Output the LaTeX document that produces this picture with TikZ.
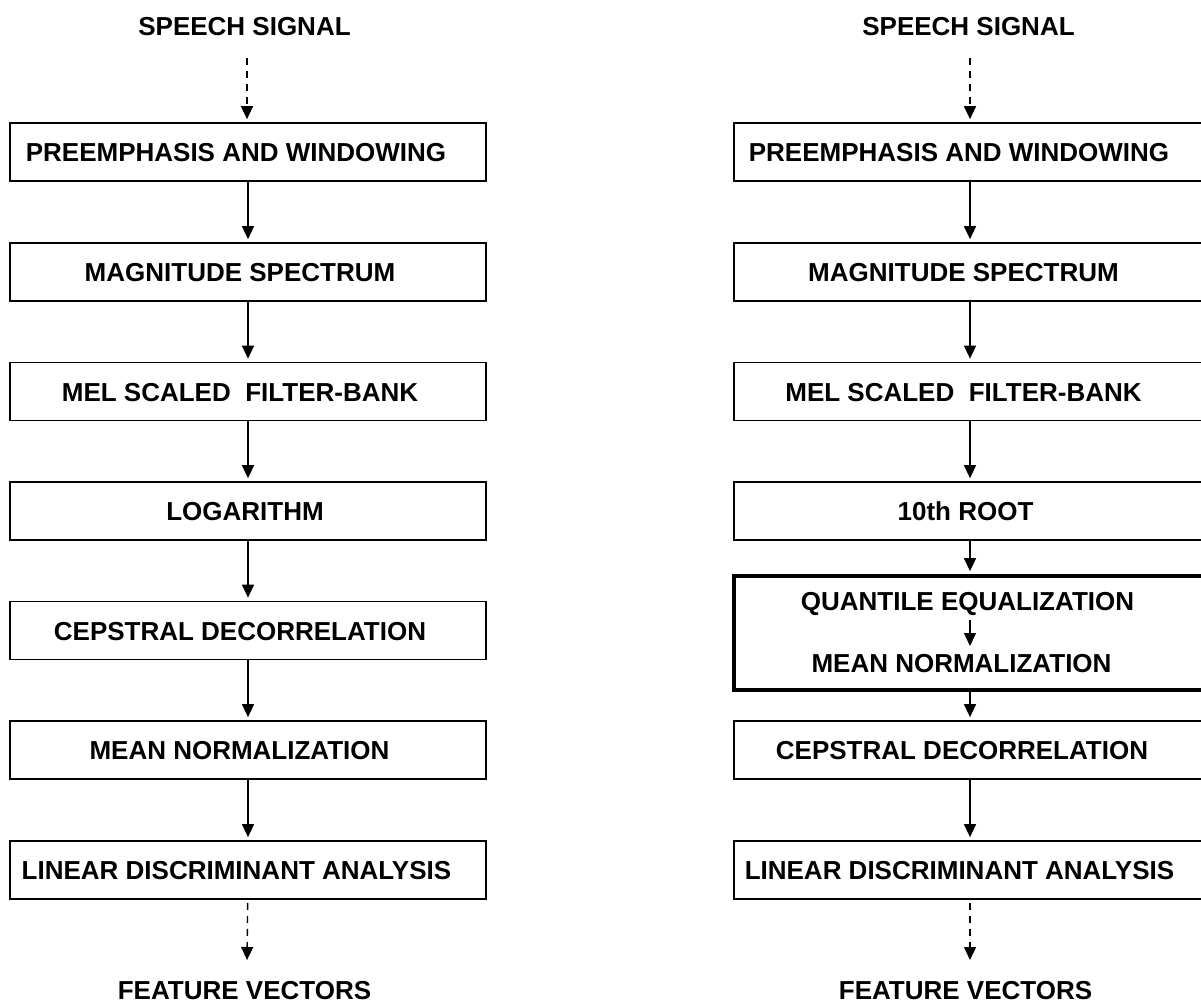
\documentclass[tikz,border=0pt]{standalone}
\usepackage{fontspec}
\setmainfont{Liberation Sans}
\usetikzlibrary{arrows.meta}
\begin{document}
\begin{tikzpicture}[x=1pt,y=-1pt,
  stage/.style={rectangle, draw=black, line width=1.7pt, minimum width=476pt,
    minimum height=58pt, inner sep=0pt},
  widestage/.style={stage, minimum width=472pt},
  caption/.style={font=\fontsize{26}{30}\selectfont\bfseries, anchor=base, inner sep=0pt},
  flow/.style={line width=1.4pt, -{Triangle[length=13pt,width=12pt]}, shorten >=3pt},
  dflow/.style={flow, dash pattern=on 7pt off 6pt}]
\useasboundingbox (0,0) rectangle (1201,1005);

% ---------------- baseline front end (left) ----------------
\node[caption] (sigL) at (244.5,35) {SPEECH SIGNAL};
\coordinate (inL) at (247,58);

\node[stage] (L1) at (248,152) {};
\node[caption] (L1t) at (236,161.5) {PREEMPHASIS AND WINDOWING};
\node[stage] (L2) at (248,272) {};
\node[caption] (L2t) at (240,281.5) {MAGNITUDE SPECTRUM};
\node[stage] (L3) at (248,391.5) {};
\node[caption] (L3t) at (240,401) {MEL SCALED\ \ FILTER-BANK};
\node[stage] (L4) at (248,511) {};
\node[caption] (L4t) at (245,520.5) {LOGARITHM};
\node[stage] (L5) at (248,630.5) {};
\node[caption] (L5t) at (240,640) {CEPSTRAL DECORRELATION};
\node[stage] (L6) at (248,750) {};
\node[caption] (L6t) at (239.5,759.5) {MEAN NORMALIZATION};
\node[stage] (L7) at (248,870) {};
\node[caption] (L7t) at (236.5,879.5) {LINEAR DISCRIMINANT ANALYSIS};

\coordinate (outL) at (247,963);
\node[caption] (featL) at (244.5,999.5) {FEATURE VECTORS};

\draw[dflow] (inL) -- (inL |- L1.north);
\draw[flow] (L1) -- (L2);
\draw[flow] (L2) -- (L3);
\draw[flow] (L3) -- (L4);
\draw[flow] (L4) -- (L5);
\draw[flow] (L5) -- (L6);
\draw[flow] (L6) -- (L7);
\draw[dflow, shorten <=3pt] (L7) -- (outL);

% ---------------- modified front end (right) ----------------
\node[caption] (sigR) at (968.5,35) {SPEECH SIGNAL};
\coordinate (inR) at (970,58);

\node[widestage] (R1) at (970,152) {};
\node[caption] (R1t) at (959,161.5) {PREEMPHASIS AND WINDOWING};
\node[widestage] (R2) at (970,272) {};
\node[caption] (R2t) at (963.5,281.5) {MAGNITUDE SPECTRUM};
\node[widestage] (R3) at (970,391.5) {};
\node[caption] (R3t) at (963.5,401) {MEL SCALED\ \ FILTER-BANK};
\node[widestage] (R4) at (970,511) {};
\node[caption] (R4t) at (965.5,520.5) {10th ROOT};
\node[widestage, line width=3.8pt, minimum height=114pt] (R5) at (970,633) {};
\node[caption] (R5a) at (967.5,610) {QUANTILE EQUALIZATION};
\node[caption] (R5b) at (961.5,672) {MEAN NORMALIZATION};
\coordinate (qeOut) at (970,620);
\coordinate (mnIn) at (970,649);
\node[widestage] (R6) at (970,750) {};
\node[caption] (R6t) at (962,759.5) {CEPSTRAL DECORRELATION};
\node[widestage] (R7) at (970,870) {};
\node[caption] (R7t) at (959.5,879.5) {LINEAR DISCRIMINANT ANALYSIS};

\coordinate (outR) at (970,963);
\node[caption] (featR) at (965.5,999.5) {FEATURE VECTORS};

\draw[dflow] (inR) -- (inR |- R1.north);
\draw[flow] (R1) -- (R2);
\draw[flow] (R2) -- (R3);
\draw[flow] (R3) -- (R4);
\draw[flow] (R4) -- (R5);
\draw[flow] (qeOut) -- (mnIn);
\draw[flow] (R5) -- (R6);
\draw[flow] (R6) -- (R7);
\draw[dflow, shorten <=3pt] (R7) -- (outR);
\end{tikzpicture}
\end{document}
